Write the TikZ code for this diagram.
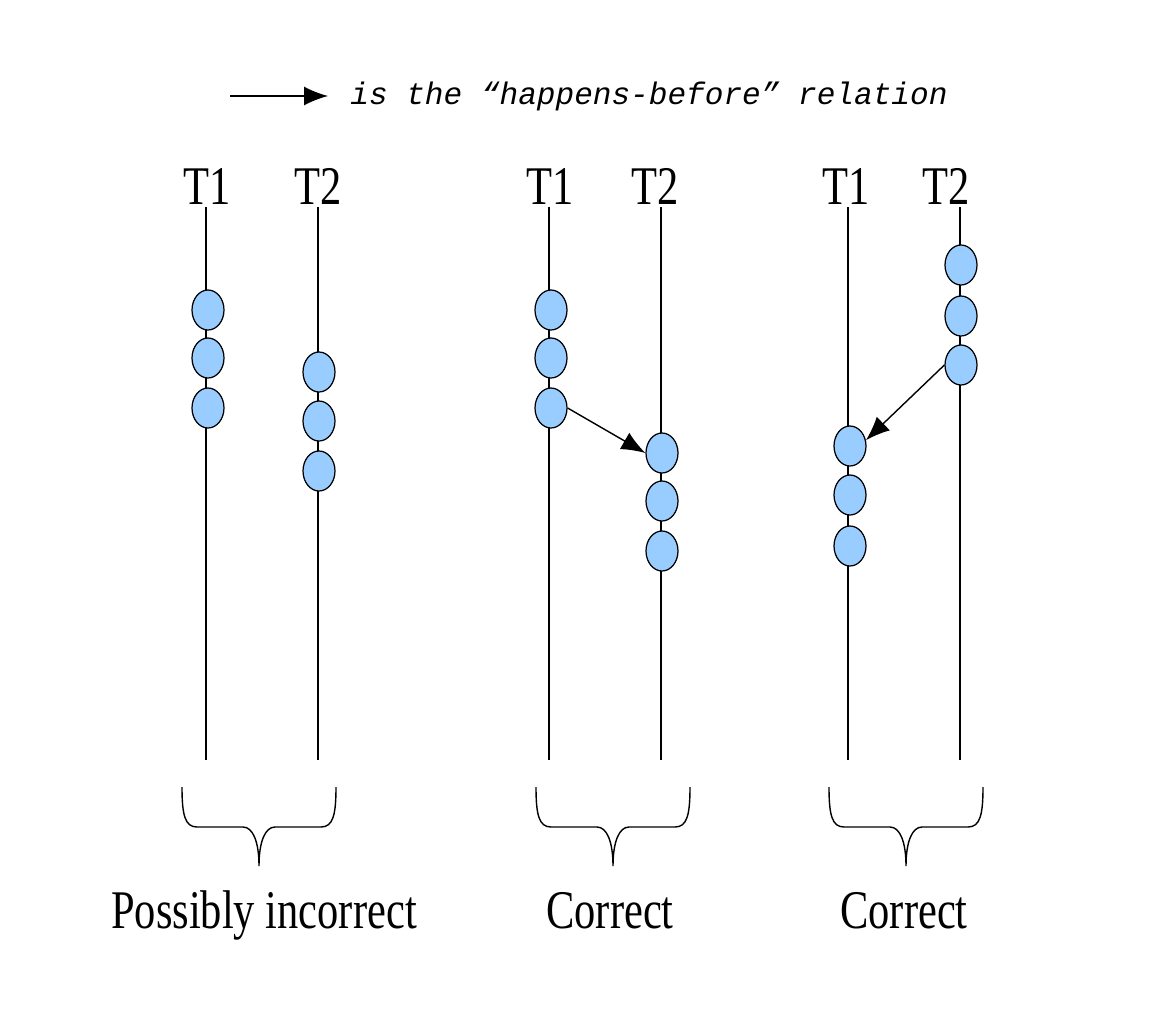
\documentclass[tikz,border=0pt]{standalone}
\usepackage{fontspec}
\setmainfont{Liberation Serif}
\setmonofont{Liberation Mono}
\newfontfamily\labelfont[FakeStretch=0.78]{Liberation Serif}
\usepackage{tikz}
\usetikzlibrary{shapes.geometric}
\usetikzlibrary{arrows.meta}
\tikzset{>={Latex[length=0.48cm,width=0.38cm]}}
\definecolor{eventblue}{RGB}{153,204,255}
\tikzset{
  event/.style={ellipse,draw,fill=eventblue,line width=0.7pt,inner sep=0pt,
    minimum width=0.64cm,minimum height=0.8cm},
  thread/.style={line width=0.7pt},
  tlabel/.style={anchor=base,inner sep=0pt,font=\labelfont\fontsize{31}{34}\selectfont},
  underbrace/.pic={
    \draw[line width=0.8pt] (-77,0) .. controls (-77,28) and (-74,40) .. (-62,40)
      -- (-16,40) .. controls (-6,40) and (0,55) .. (0,79)
      .. controls (0,55) and (6,40) .. (16,40)
      -- (62,40) .. controls (74,40) and (77,28) .. (77,0);
  }
}

\begin{document}
\begin{tikzpicture}[x=0.02cm,y=-0.02cm]
      \useasboundingbox (0,0) rectangle (1156,1024);
      % legend
      \coordinate (keystart) at (230,96);
      \coordinate (keyend) at (328,96);
      \draw[line width=0.8pt,->] (keystart) -- (keyend);
      \node[anchor=base west,inner sep=0pt,font=\ttfamily\itshape\fontsize{17.7}{20}\selectfont] (keytext) at (350,105) {is the “happens-before” relation};
      % possibly incorrect
      \node[tlabel] (pt1) at (207,204) {T1};
      \node[tlabel] (pt2) at (318,204) {T2};
      \coordinate (pt1top) at (206,207); \coordinate (pt1bot) at (206,760);
      \coordinate (pt2top) at (318,207); \coordinate (pt2bot) at (318,760);
      \draw[thread] (pt1top) -- (pt1bot);
      \draw[thread] (pt2top) -- (pt2bot);
      \node[event] (pa1) at (208,310) {};
      \node[event] (pa2) at (208,358) {};
      \node[event] (pa3) at (208,408) {};
      \node[event] (pb1) at (319,372) {};
      \node[event] (pb2) at (319,421) {};
      \node[event] (pb3) at (319,471) {};
      \pic at (259,787) {underbrace};
      \node[tlabel] (plabel) at (264,928) {Possibly incorrect};
      % correct, T1 before T2
      \node[tlabel] (ct1) at (550,204) {T1};
      \node[tlabel] (ct2) at (655,204) {T2};
      \coordinate (ct1top) at (549,207); \coordinate (ct1bot) at (549,760);
      \coordinate (ct2top) at (661,207); \coordinate (ct2bot) at (661,760);
      \draw[thread] (ct1top) -- (ct1bot);
      \draw[thread] (ct2top) -- (ct2bot);
      \node[event] (ca1) at (551,310) {};
      \node[event] (ca2) at (551,358) {};
      \node[event] (ca3) at (551,408) {};
      \node[event] (cb1) at (662,453) {};
      \node[event] (cb2) at (662,501) {};
      \node[event] (cb3) at (662,551) {};
      \draw[line width=0.8pt,->] (ca3.east) -- (cb1.west);
      \pic at (613,787) {underbrace};
      \node[tlabel] (clabel) at (610,928) {Correct};
      % correct, T2 before T1
      \node[tlabel] (dt1) at (846,204) {T1};
      \node[tlabel] (dt2) at (946,204) {T2};
      \coordinate (dt1top) at (848,207); \coordinate (dt1bot) at (848,760);
      \coordinate (dt2top) at (960,207); \coordinate (dt2bot) at (960,760);
      \draw[thread] (dt1top) -- (dt1bot);
      \draw[thread] (dt2top) -- (dt2bot);
      \node[event] (db1) at (961,265) {};
      \node[event] (db2) at (961,316) {};
      \node[event] (db3) at (961,365) {};
      \node[event] (da1) at (850,446) {};
      \node[event] (da2) at (850,495) {};
      \node[event] (da3) at (850,546) {};
      \draw[line width=0.8pt,->] (db3.west) -- (da1.20);
      \pic at (906,787) {underbrace};
      \node[tlabel] (dlabel) at (904,928) {Correct};
\end{tikzpicture}
\end{document}
